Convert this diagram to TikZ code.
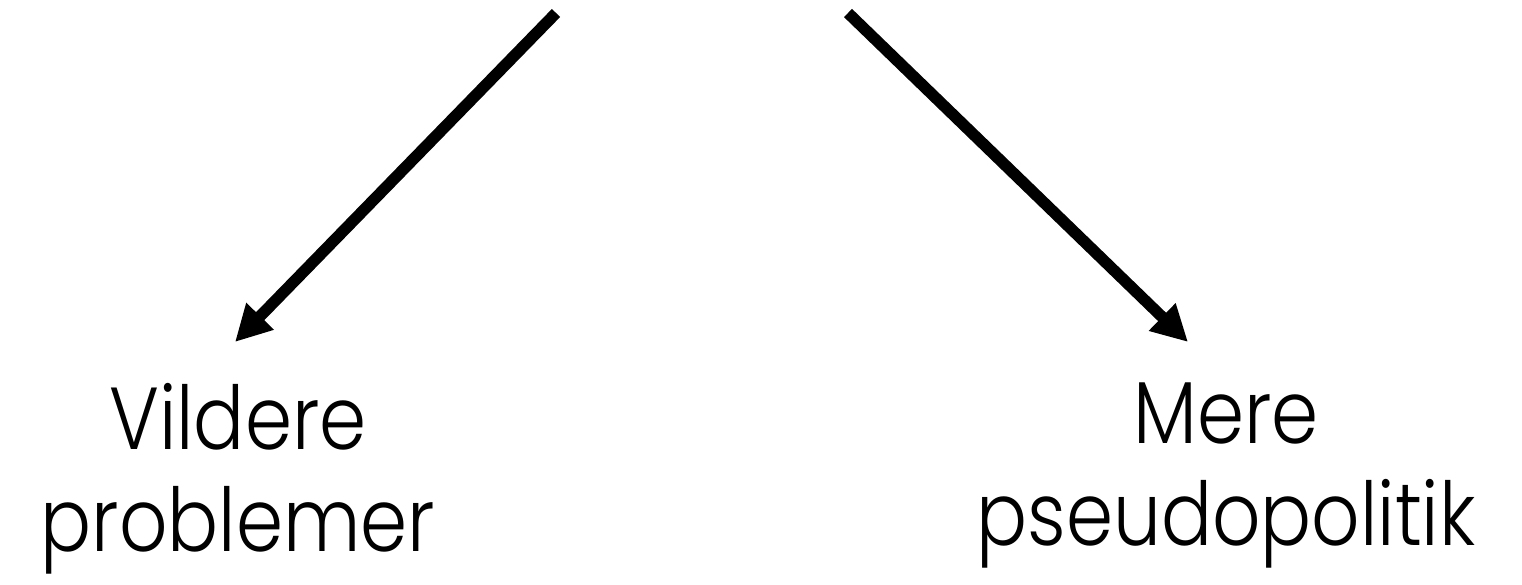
\documentclass[tikz,border=0pt]{standalone}
\usepackage{fontspec}
\setmainfont{Poppins}[UprightFont={* Light}, FakeStretch=0.86]
\usetikzlibrary{arrows.meta}
\tikzset{
  arr/.style={line width=11.5pt, -{Triangle[length=36pt,width=36pt]}},
  lbl/.style={inner sep=0pt, align=center, font=\fontsize{88}{102}\selectfont}
}

\begin{document}
\begin{tikzpicture}[x=1pt,y=-1pt]
  \useasboundingbox (0,0) rectangle (1522,585);

  \coordinate (ltop) at (556,13);
  \coordinate (ltip) at (235,342);
  \coordinate (rtop) at (848,13);
  \coordinate (rtip) at (1188,342);

  \node[lbl, anchor=north] (vild) at (238,383) {Vildere\\problemer};
  \node[lbl, anchor=north] (mere) at (1226,383) {Mere\\pseudopolitik};

  \draw[arr] (ltop) -- (ltip);
  \draw[arr] (rtop) -- (rtip);
\end{tikzpicture}
\end{document}
